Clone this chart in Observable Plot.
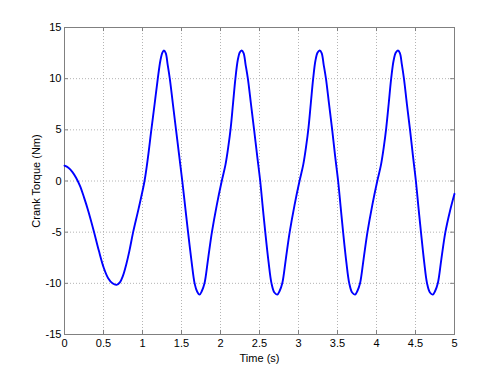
<!DOCTYPE html>
<html>
<head>
<meta charset="utf-8">
<script src="https://cdn.jsdelivr.net/npm/d3@7"></script>
<script src="https://cdn.jsdelivr.net/npm/@observablehq/plot@0.6"></script>
<style>
  html, body { margin: 0; padding: 0; background: #fff; }
</style>
</head>
<body>
<div id="chart"></div>
<script>
const time = [
  0, 0.05, 0.1, 0.15, 0.2, 0.25, 0.3, 0.376, 0.44, 0.504, 0.56, 0.615, 0.667, 0.71, 0.75, 0.79, 0.83, 0.88, 0.95,
  1.026, 1.07, 1.11, 1.155, 1.196, 1.23, 1.255, 1.274, 1.298, 1.322, 1.35, 1.39, 1.43, 1.47, 1.51, 1.547,
  1.584, 1.628, 1.668, 1.70, 1.731,
  1.761, 1.795, 1.841, 1.89, 1.951, 2.016, 2.064, 2.101, 2.131, 2.161, 2.191, 2.221, 2.246, 2.271, 2.296,
  2.321, 2.351, 2.391, 2.431, 2.471, 2.509, 2.541, 2.574, 2.616, 2.654, 2.691, 2.728,
  2.758, 2.792, 2.838, 2.887, 2.948, 3.013, 3.061, 3.098, 3.128, 3.158, 3.188, 3.218, 3.245, 3.272, 3.297,
  3.322, 3.352, 3.392, 3.432, 3.47, 3.508, 3.54, 3.572, 3.613, 3.651, 3.688, 3.725,
  3.755, 3.789, 3.835, 3.884, 3.945, 4.010, 4.058, 4.095, 4.125, 4.157, 4.188, 4.22, 4.248, 4.275, 4.30,
  4.325, 4.352, 4.39, 4.43, 4.468, 4.505, 4.537, 4.57, 4.611, 4.648, 4.685, 4.722,
  4.752, 4.786, 4.832, 4.883, 4.94, 5.0
];
const torque = [
  1.5, 1.3, 0.9, 0.3, -0.5, -1.6, -2.8, -4.9, -6.8, -8.5, -9.5, -10.0, -10.15, -9.9, -9.25, -8.2, -6.9, -5, -2.7,
  0, 2.3, 4.8, 7.5, 10, 11.8, 12.55, 12.75, 12.5, 11.4, 10, 7.5, 5, 2.5, 0, -2.5,
  -5, -7.8, -10, -10.8, -11.1,
  -10.75, -10, -7.6, -5, -2.4, 0, 1.6, 3.4, 5.2, 7.6, 10, 11.8, 12.55, 12.75, 12.5,
  11.4, 10, 7.5, 5, 2.4, 0, -2.5, -5, -7.9, -10, -10.9, -11.1,
  -10.75, -10, -7.6, -5, -2.4, 0, 1.6, 3.4, 5.2, 7.6, 10, 11.8, 12.55, 12.75, 12.5,
  11.4, 10, 7.5, 5, 2.4, 0, -2.5, -5, -7.9, -10, -10.9, -11.1,
  -10.75, -10, -7.6, -5, -2.4, 0, 1.6, 3.4, 5.2, 7.6, 10, 11.8, 12.55, 12.75, 12.5,
  11.4, 10, 7.5, 5, 2.4, 0, -2.5, -5, -7.9, -10, -10.9, -11.1,
  -10.75, -10, -7.6, -5, -3.0, -1.25
];
const xTicks = [0, 0.5, 1, 1.5, 2, 2.5, 3, 3.5, 4, 4.5, 5];
const yTicks = [-15, -10, -5, 0, 5, 10, 15];
const xLabel = "Time (s)";
const yLabel = "Crank Torque (Nm)";

const data = time.map((t, i) => ({t, v: torque[i]}));
const xTickLen = 0.05, yTickLen = 0.4;

const chart = Plot.plot({
  width: 500,
  height: 375,
  marginLeft: 64,
  marginRight: 46,
  marginTop: 27,
  marginBottom: 41,
  style: {fontFamily: "'Liberation Sans', Arial, sans-serif", fontSize: "11px", color: "#000", background: "#fff"},
  x: {domain: [0, 5]},
  y: {domain: [-15, 15]},
  marks: [
    Plot.gridX(xTicks, {stroke: "#b4b4b4", strokeOpacity: 1, strokeDasharray: "1,2"}),
    Plot.gridY(yTicks, {stroke: "#b4b4b4", strokeOpacity: 1, strokeDasharray: "1,2"}),
    Plot.ruleX(xTicks, {x: d => d, y1: -15, y2: -15 + yTickLen, stroke: "#808080"}),
    Plot.ruleX(xTicks, {x: d => d, y1: 15 - yTickLen, y2: 15, stroke: "#808080"}),
    Plot.ruleY(yTicks, {y: d => d, x1: 0, x2: xTickLen, stroke: "#808080"}),
    Plot.ruleY(yTicks, {y: d => d, x1: 5 - xTickLen, x2: 5, stroke: "#808080"}),
    Plot.frame({stroke: "#808080"}),
    Plot.axisX(xTicks, {tickSize: 0, tickPadding: 5, tickFormat: d => String(d), label: xLabel, labelAnchor: "center", labelArrow: "none", labelOffset: 27}),
    Plot.axisY(yTicks, {tickSize: 0, tickPadding: 3, tickFormat: d => String(d), label: yLabel, labelAnchor: "center", labelArrow: "none", labelOffset: 32}),
    Plot.line(data, {x: "t", y: "v", stroke: "#0000ff", strokeWidth: 1.9, curve: "catmull-rom"})
  ]
});
document.getElementById("chart").appendChild(chart);
</script>
</body>
</html>
